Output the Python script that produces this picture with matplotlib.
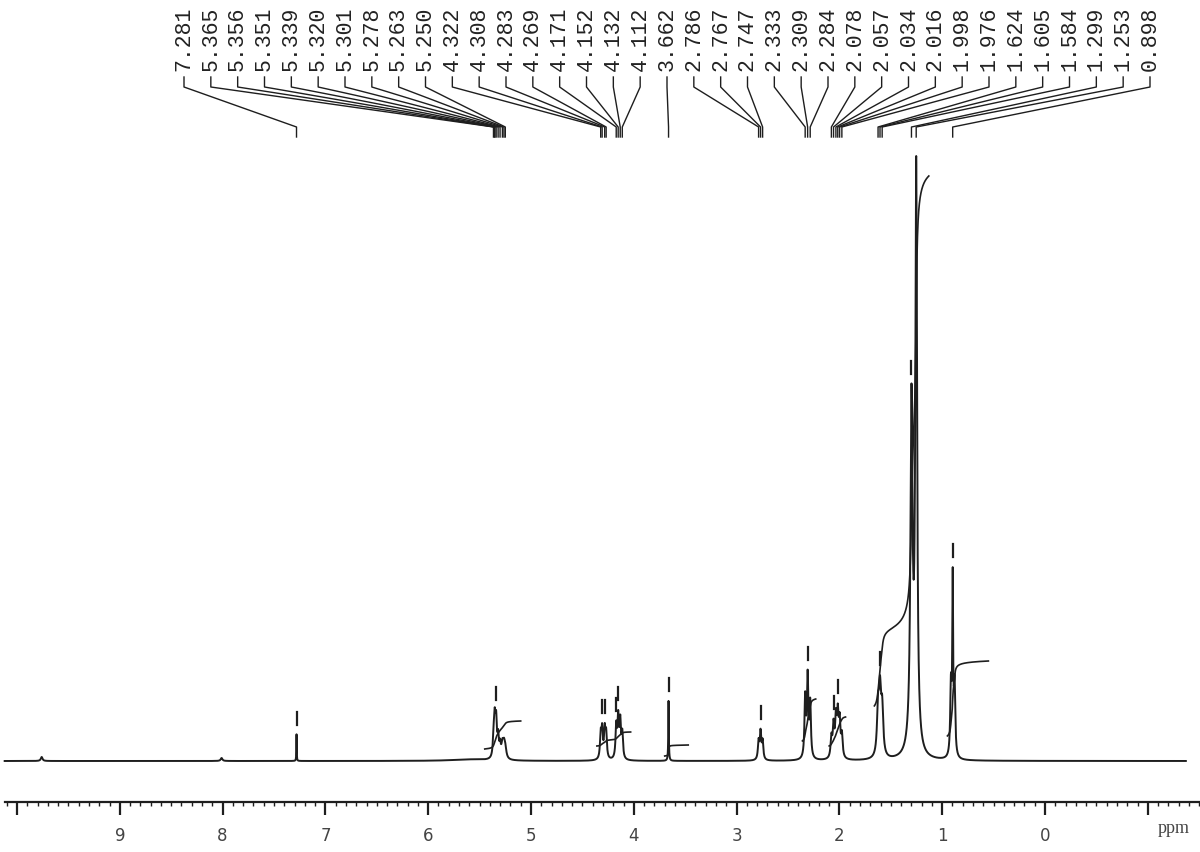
import numpy as np
import matplotlib.pyplot as plt
from matplotlib.ticker import MultipleLocator, FixedLocator
from matplotlib.transforms import blended_transform_factory

# picked peak labels (ppm)
label_ppm = [7.281, 5.365, 5.356, 5.351, 5.339, 5.320, 5.301, 5.278, 5.263, 5.250,
             4.322, 4.308, 4.283, 4.269, 4.171, 4.152, 4.132, 4.112, 3.662,
             2.786, 2.767, 2.747, 2.333, 2.309, 2.284, 2.078, 2.057, 2.034, 2.016,
             1.998, 1.976, 1.624, 1.605, 1.584, 1.299, 1.253, 0.898]

# peaks that carry a pick marker
marker_ppm = [7.281, 5.339, 4.308, 4.283, 4.171, 4.152, 3.662, 2.767, 2.309,
              2.057, 2.016, 1.605, 1.299, 0.898]

# lines of the spectrum: position, height, half width
peak_ppm = [9.76, 8.01, 7.281,
            5.365, 5.356, 5.351, 5.339, 5.320, 5.301, 5.278, 5.263, 5.250,
            4.322, 4.308, 4.283, 4.269, 4.171, 4.152, 4.132, 4.112, 3.662,
            2.786, 2.767, 2.747, 2.333, 2.309, 2.284,
            2.078, 2.057, 2.034, 2.016, 1.998, 1.976,
            1.624, 1.605, 1.584, 1.299, 1.253, 1.28,
            0.915, 0.898, 0.880, 5.6]
peak_height = [4, 3, 27,
               15, 21, 21, 34, 20, 12, 13, 12, 9,
               24, 28, 28, 24, 32, 40, 36, 25, 60,
               18, 27, 18, 60, 80, 54,
               20, 31, 37, 40, 34, 22,
               46, 60, 46, 335, 570, 20,
               70, 170, 70, 1.5]
peak_width = [0.01, 0.01, 0.002,
              0.008, 0.008, 0.008, 0.008, 0.008, 0.008, 0.012, 0.012, 0.012,
              0.008, 0.008, 0.008, 0.008, 0.008, 0.008, 0.008, 0.008, 0.003,
              0.008, 0.008, 0.008, 0.008, 0.008, 0.008,
              0.009, 0.009, 0.009, 0.009, 0.009, 0.009,
              0.012, 0.012, 0.012, 0.012, 0.01, 0.04,
              0.008, 0.005, 0.008, 0.2]

# integral regions: from ppm, to ppm, start level, end level
int_from = [5.45, 4.36, 3.70, 2.36, 2.10, 1.66, 0.95]
int_to = [5.10, 4.03, 3.47, 2.23, 1.94, 1.13, 0.55]
int_lo = [12, 15, 5, 20, 15, 55, 25]
int_hi = [40, 29, 16, 62, 44, 585, 100]

ppm = np.linspace(10.12, -1.37, 12000)
spec = np.zeros_like(ppm)
for x0, h, w in zip(peak_ppm, peak_height, peak_width):
    spec += h * w**2 / ((ppm - x0)**2 + w**2)

fig = plt.figure(figsize=(12, 8.53), dpi=100)
ax = fig.add_axes([0, 0, 1, 1])
W, H = 1200, 853
x_left, x_right = 1045 / 102.8, -155 / 102.8
ax.set_xlim(x_left, x_right)
ax.set_ylim(-(H - 762), 762)

ink = '#1e1e1e'
ax.plot(ppm, spec, color=ink, lw=1.4)

for a, b, lo, hi in zip(int_from, int_to, int_lo, int_hi):
    m = (ppm <= a) & (ppm >= b)
    c = np.cumsum(spec[m])
    ax.plot(ppm[m], lo + (hi - lo) * c / c[-1], color=ink, lw=1.2)

# peak pick markers
for p in marker_ppm:
    top = np.interp(p, ppm[::-1], spec[::-1])
    ax.plot([p, p], [top + 10, top + 23], color=ink, lw=1.6)

# label connectors
tr = blended_transform_factory(ax.transData, ax.transAxes)
def px2ppm(px):
    return x_left + px / W * (x_right - x_left)
def fy(py):
    return 1 - py / H
n = len(label_ppm)
for i, p in enumerate(label_ppm):
    lx = px2ppm(184 + i * (1150 - 184) / (n - 1))
    ax.plot([lx, lx, p, p], [fy(78), fy(88), fy(128), fy(138)],
            color=ink, lw=1.0, transform=tr)
    ax.text(lx, fy(71), f'{p:.3f}', rotation=90, ha='center', va='bottom',
            family='Liberation Mono', fontsize=15.5, color='#222222', transform=tr)

# axis
for s in ['top', 'left', 'right']:
    ax.spines[s].set_visible(False)
ax.spines['bottom'].set_position(('data', 762 - 803))
ax.spines['bottom'].set_bounds(10.12, x_right)
ax.spines['bottom'].set_linewidth(1.6)
ax.spines['bottom'].set_color(ink)
ax.xaxis.set_major_locator(FixedLocator(list(range(-1, 11))))
ax.xaxis.set_minor_locator(MultipleLocator(0.1))
ax.set_xticklabels(['' if (t == 10 or t == -1) else str(t) for t in range(-1, 11)])
ax.tick_params(axis='x', which='major', direction='out', length=9, width=1.6,
               color=ink, labelsize=12, labelcolor='#444444', pad=8)
ax.tick_params(axis='x', which='minor', direction='out', length=3, width=1.0, color=ink)
ax.set_yticks([])
ax.text(-1.25, 762 - 829, 'ppm', ha='center', va='center', fontsize=13,
        family='Liberation Serif', color='#444444')

fig.savefig('out.png', dpi=100)
